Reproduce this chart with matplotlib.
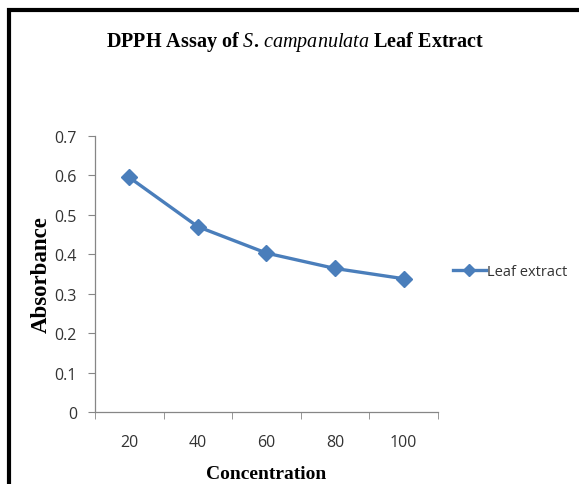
import matplotlib
matplotlib.use("Agg")
import matplotlib.pyplot as plt
from matplotlib.patches import Rectangle

concentration = ["20", "40", "60", "80", "100"]
absorbance = [0.595, 0.470, 0.403, 0.364, 0.338]
y_ticks = [0, 0.1, 0.2, 0.3, 0.4, 0.5, 0.6, 0.7]
series_name = "Leaf extract"

plt.rcParams["mathtext.fontset"] = "custom"
plt.rcParams["mathtext.it"] = "Liberation Serif:italic"
plt.rcParams["mathtext.rm"] = "Liberation Serif:bold"

tick_font = ["Open Sans", "DejaVu Sans"]
serif = ["Liberation Serif", "DejaVu Serif"]

fig = plt.figure(figsize=(5.79, 4.85), dpi=100)
ax = fig.add_axes([0.164, 0.1485, 0.5925, 0.569])

xs = list(range(len(concentration)))
ax.plot(xs, absorbance, color="#4a7ebb", lw=2.4, marker="D", ms=8,
        label=series_name)

ax.set_xlim(-0.5, len(concentration) - 0.5)
ax.set_ylim(0, 0.7)
ax.set_yticks(y_ticks)
ax.set_yticklabels(["0" if v == 0 else f"{v:.1f}" for v in y_ticks],
                   family=tick_font, fontsize=11.5, color="#333333")
ax.set_xticks(xs)
ax.set_xticklabels(concentration, family=tick_font, fontsize=11.5, color="#333333")
ax.set_xticks([i - 0.5 for i in range(len(concentration) + 1)], minor=True)
ax.tick_params(axis="x", which="major", length=0, pad=16)
ax.tick_params(axis="x", which="minor", length=5, color="#868686")
ax.tick_params(axis="y", length=5, color="#868686", pad=8)

for s in ["top", "right"]:
    ax.spines[s].set_visible(False)
for s in ["left", "bottom"]:
    ax.spines[s].set_color("#868686")
    ax.spines[s].set_linewidth(0.9)

ax.set_xlabel("Concentration", family=serif, fontweight="bold", fontsize=14,
              labelpad=11)
ax.set_ylabel("Absorbance", family=serif, fontweight="bold", fontsize=16.5,
              labelpad=2)

fig.text(0.51, 0.913, r"DPPH Assay of $\it{S.\,campanulata}$ Leaf Extract",
         family=serif, fontweight="bold", fontsize=14.5, ha="center", va="center")

leg = ax.legend(loc="center left", bbox_to_anchor=(1.045, 0.51), frameon=False,
                borderpad=0, borderaxespad=0,
                handlelength=2.2, handletextpad=0.1, markerscale=0.8,
                prop={"family": tick_font, "size": 10.5})
for t in leg.get_texts():
    t.set_color("#333333")

# outer frame around the chart
fig.patches.append(Rectangle((9 / 579, -0.2), 1.5, 1.2 - 11 / 485,
                             transform=fig.transFigure, fill=False,
                             ec="black", lw=3, zorder=10))

fig.savefig("out.png", dpi=100)
